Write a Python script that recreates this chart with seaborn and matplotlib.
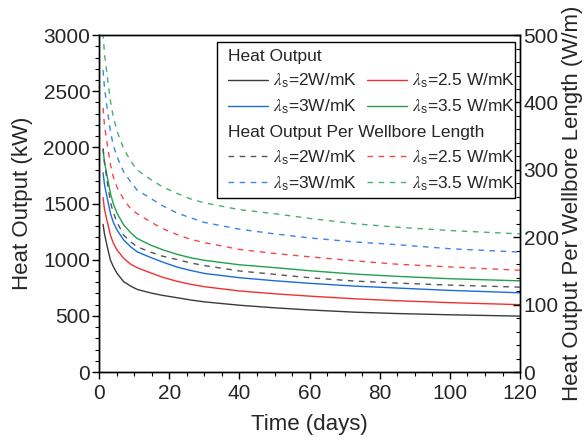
import numpy as np
import pandas as pd
import seaborn as sns
import matplotlib.pyplot as plt
from matplotlib.patches import Rectangle
from matplotlib.ticker import MultipleLocator

# time axis (days) and readings for each thermal conductivity
days = [1.1, 1.5, 2.3, 3.2, 4, 5.1, 7, 9, 10.8, 14.6, 18, 22.2, 26, 30,
        40, 50, 60, 73, 85, 100, 120]
conductivity = ["2", "2.5", "3", "3.5"]

# heat output (kW)
q_2 = [1315, 1230, 1115, 997, 940, 878, 804, 765, 736, 705, 683, 662, 642, 625,
       595, 572, 553, 533, 521, 510, 498]
q_25 = [1552, 1450, 1338, 1220, 1150, 1086, 1012, 960, 929, 884, 845, 808, 782, 760,
        722, 697, 676, 652, 635, 618, 600]
q_3 = [1774, 1670, 1546, 1413, 1335, 1264, 1175, 1115, 1071, 1021, 980, 935, 905, 878,
       840, 813, 790, 765, 748, 727, 706]
q_35 = [1982, 1870, 1739, 1591, 1500, 1413, 1309, 1240, 1190, 1131, 1090, 1048, 1018, 995,
        955, 930, 902, 872, 852, 831, 812]

# heat output per wellbore length (W/m)
w_2 = [332, 311, 282, 252, 237, 222, 203, 193, 186, 178, 172, 167, 162, 158,
       150, 145, 140, 135, 132, 129, 126]
w_25 = [392, 366, 338, 308, 290, 274, 256, 242, 235, 223, 213, 204, 197, 192,
        182, 176, 171, 165, 160, 156, 151]
w_3 = [448, 422, 390, 357, 337, 319, 297, 282, 270, 258, 247, 236, 229, 222,
       212, 205, 199, 193, 189, 183, 178]
w_35 = [503, 472, 439, 402, 379, 357, 331, 313, 300, 286, 275, 265, 257, 251,
        241, 235, 228, 220, 215, 210, 205]

colors = ["#3a3a3a", "#f23030", "#1a6be0", "#22a050"]
dash_colors = ["#555555", "#f44848", "#3a85e8", "#45b070"]
labels = [r"$\lambda_\mathregular{s}$=2W/mK", r"$\lambda_\mathregular{s}$=2.5 W/mK",
          r"$\lambda_\mathregular{s}$=3W/mK", r"$\lambda_\mathregular{s}$=3.5 W/mK"]

rows = []
for k, qs, ws in zip(conductivity, [q_2, q_25, q_3, q_35], [w_2, w_25, w_3, w_35]):
    for t, q, w in zip(days, qs, ws):
        rows.append({"t": t, "k": k, "q": q, "w": w})
df = pd.DataFrame(rows)

sns.set_theme(style="ticks")
plt.rcParams["font.family"] = ["Liberation Sans", "DejaVu Sans"]
plt.rcParams["mathtext.fontset"] = "stix"
plt.rcParams["axes.linewidth"] = 1.0

fig = plt.figure(figsize=(5.87, 4.44), dpi=100)
ax = fig.add_axes([0.169, 0.162, 0.717, 0.759])
ax2 = ax.twinx()

sns.lineplot(data=df, x="t", y="q", hue="k", palette=colors, lw=1.0,
             ax=ax, legend=False)
sns.lineplot(data=df, x="t", y="w", hue="k", palette=dash_colors, lw=1.0,
             ax=ax2, legend=False)
for ln in ax2.get_lines():
    ln.set_dashes((4, 4))

ax.set_xlim(0, 120)
ax.set_ylim(0, 3000)
ax2.set_ylim(0, 500)
ax.xaxis.set_major_locator(MultipleLocator(20))
ax.xaxis.set_minor_locator(MultipleLocator(5))
ax.yaxis.set_major_locator(MultipleLocator(500))
ax.yaxis.set_minor_locator(MultipleLocator(100))
ax2.yaxis.set_major_locator(MultipleLocator(100))
ax2.yaxis.set_minor_locator(MultipleLocator(20))
ax.tick_params(which="major", length=5, width=1, labelsize=15, color="black", pad=1.5)
ax.tick_params(axis="x", which="major", pad=3.5)
ax.tick_params(which="minor", length=3, width=0.8, color="black")
ax2.tick_params(which="major", direction="in", length=5, width=1, labelsize=15,
                color="black", pad=2.5)
ax2.tick_params(which="minor", direction="in", length=3, width=0.8, color="black")
for a in (ax, ax2):
    for s in a.spines.values():
        s.set_visible(True)
        s.set_color("black")

ax.set_xlabel("Time (days)", fontsize=16, labelpad=8)
ax.set_ylabel("Heat Output (kW)", fontsize=16)
ax2.set_ylabel("Heat Output Per Wellbore Length (W/m)", fontsize=16)
ax.yaxis.set_label_coords(-0.158, 0.5)
ax2.yaxis.set_label_coords(1.100, 0.5)

# framed legend built from two borderless legends (row order 2 | 2.5, 3 | 3.5)
order = [0, 2, 1, 3]
solid = [plt.Line2D([], [], color=colors[i], lw=1.0) for i in order]
dashed = [plt.Line2D([], [], color=dash_colors[i], lw=1.0, dashes=(4, 4)) for i in order]
leg_labels = [labels[i] for i in order]
box = Rectangle((0.280, 0.516), 0.708, 0.464, transform=ax.transAxes,
                facecolor="white", edgecolor="black", lw=1.0, zorder=4)
ax2.add_patch(box)
kw = dict(ncol=2, frameon=False, fontsize=12.5, title_fontsize=12.5,
          handlelength=2.3, handletextpad=0.3, columnspacing=0.6,
          labelspacing=0.45, alignment="left", borderpad=0.0, loc="upper left")
leg1 = ax2.legend(solid, leg_labels, title="Heat Output",
                  bbox_to_anchor=(0.285, 0.985), **kw)
ax2.add_artist(leg1)
leg2 = ax2.legend(dashed, leg_labels, title="Heat Output Per Wellbore Length",
                  bbox_to_anchor=(0.285, 0.758), **kw)
for lg in (leg1, leg2):
    lg.set_zorder(6)

fig.savefig("out.png", dpi=100)
